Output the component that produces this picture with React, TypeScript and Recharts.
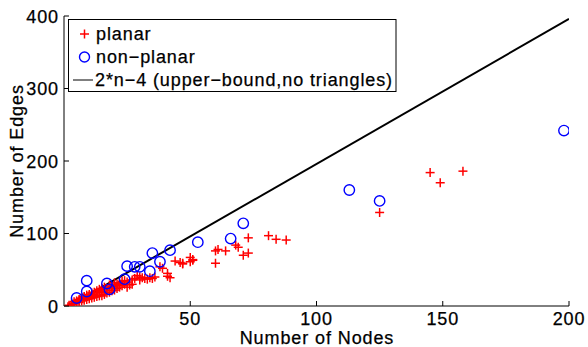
import React from "react"
import {
  ComposedChart,
  Scatter,
  XAxis,
  YAxis,
} from "recharts"

// planar graphs (red +)
const planarNodes = [
  2, 3, 3, 4, 4, 5, 5, 6, 6, 6, 7, 7, 7, 8, 8, 8, 9, 9, 9, 10, 10, 10, 11, 11, 11,
  12, 12, 12, 13, 13, 13, 14, 14, 14, 15, 15, 15, 16, 16, 16, 17, 17, 18, 18, 18,
  19, 19, 20, 20, 20, 21, 21, 22, 22, 23, 23, 24, 24, 25, 25, 26, 27, 27, 28, 29,
  30, 30, 31, 32, 33, 34, 35, 36, 38, 39, 41, 41, 42, 44, 46, 47, 47, 50, 51,
  50, 51, 60, 60, 61, 64, 68, 69, 71, 73, 73, 81, 84, 88, 125, 145, 149, 158,
]
const planarEdges = [
  1, 2, 4, 3, 6, 5, 7, 5, 8, 9, 7, 10, 11, 8, 12, 13, 9, 13, 15, 10, 14, 16, 11, 15, 18,
  12, 16, 19, 13, 18, 21, 14, 19, 23, 14, 20, 24, 16, 22, 26, 18, 24, 19, 25, 29,
  21, 27, 22, 28, 32, 24, 30, 26, 31, 28, 34, 30, 35, 26, 33, 29, 30, 36, 38, 42,
  36, 40, 39, 38, 37, 39, 38, 40, 54, 52, 41, 45, 39, 62, 60, 59, 58, 67, 64,
  61, 63, 59, 76, 78, 76, 84, 81, 70, 73, 94, 97, 92, 91, 129, 184, 170, 186,
]

// non-planar graphs (blue o)
const nonPlanarNodes = [5, 9, 9, 17, 18, 24, 25, 28, 30, 34, 35, 38, 42, 53, 66, 71, 113, 125, 198]
const nonPlanarEdges = [11, 35, 20, 31, 23, 37, 55, 54, 54, 48, 73, 61, 77, 88, 93, 114, 160, 145, 242]

// upper bound 2*n-4
const boundNodes = [2, 200]
const boundEdges = [0, 396]

const xTicks = [50, 100, 150, 200]
const yTicks = [0, 100, 200, 300, 400]

const planar = planarNodes.map((x, i) => ({ x, y: planarEdges[i] }))
const nonPlanar = nonPlanarNodes.map((x, i) => ({ x, y: nonPlanarEdges[i] }))
const bound = boundNodes.map((x, i) => ({ x, y: boundEdges[i] }))

const FONT = "'Liberation Sans', Arial, sans-serif"
const textStyle = { fontFamily: FONT, fontSize: 18, letterSpacing: 0.9 }
// slight stroke to mimic the heavier raster text
const ink = { fill: "#000", stroke: "#000", strokeWidth: 0.25 }

const Plus = (p: any) => (
  <g stroke="#ff0000" strokeWidth={1.5}>
    <line x1={p.cx - 4.5} x2={p.cx + 4.5} y1={p.cy} y2={p.cy} />
    <line x1={p.cx} x2={p.cx} y1={p.cy - 4.5} y2={p.cy + 4.5} />
  </g>
)

const Ring = (p: any) => (
  <circle cx={p.cx} cy={p.cy} r={5.2} fill="none" stroke="#0000ff" strokeWidth={1.4} />
)

const XTick = (p: any) => (
  <g>
    <line x1={p.x} x2={p.x} y1={p.y} y2={p.y - 5} stroke="#000" />
    <text x={p.x} y={p.y + 19} textAnchor="middle" {...ink} style={textStyle}>
      {p.payload.value}
    </text>
  </g>
)

const YTick = (p: any) => (
  <g>
    <line x1={p.x} x2={p.x + 5} y1={p.y} y2={p.y} stroke="#000" />
    <text x={p.x - 5} y={p.y + 6.5} textAnchor="end" {...ink} style={textStyle}>
      {p.payload.value}
    </text>
  </g>
)

const TopTick = (p: any) => (
  <line x1={p.x} x2={p.x} y1={p.y} y2={p.y + 5} stroke="#000" />
)

const RightTick = (p: any) => (
  <line x1={p.x} x2={p.x - 5} y1={p.y} y2={p.y} stroke="#000" />
)

export default function App() {
  return (
    <div style={{ position: "fixed", left: 0, top: 0, width: 588, height: 347, background: "#fff" }}>
      <ComposedChart width={588} height={347} margin={{ top: 16, right: 19, left: 0, bottom: 0 }}>
        <XAxis xAxisId="b" dataKey="x" type="number" domain={[0, 200]} ticks={xTicks} height={41}
          tickSize={0} tickMargin={0} tick={<XTick />} axisLine={{ stroke: "#000" }} allowDataOverflow />
        <XAxis xAxisId="t" orientation="top" dataKey="x" type="number" domain={[0, 200]} ticks={xTicks} height={0}
          tickSize={0} tickMargin={0} tick={<TopTick />} axisLine={{ stroke: "#000" }} allowDataOverflow />
        <YAxis yAxisId="l" dataKey="y" type="number" domain={[0, 400]} ticks={yTicks} width={64}
          tickSize={0} tickMargin={0} tick={<YTick />} axisLine={{ stroke: "#000" }} allowDataOverflow />
        <YAxis yAxisId="r" orientation="right" dataKey="y" type="number" domain={[0, 400]} ticks={yTicks} width={0}
          tickSize={0} tickMargin={0} tick={<RightTick />} axisLine={{ stroke: "#000" }} allowDataOverflow />
        <Scatter xAxisId="b" yAxisId="l" data={bound} line={{ stroke: "#000", strokeWidth: 2 }}
          shape={() => <g />} isAnimationActive={false} />
        <Scatter xAxisId="b" yAxisId="l" data={planar} shape={<Plus />} isAnimationActive={false} />
        <Scatter xAxisId="b" yAxisId="l" data={nonPlanar} shape={<Ring />} isAnimationActive={false} />
      </ComposedChart>

      <svg width={588} height={347} style={{ position: "absolute", left: 0, top: 0, pointerEvents: "none" }}>
        <text x={317} y={344} textAnchor="middle" {...ink} style={textStyle}>Number of Nodes</text>
        <text x={0} y={0} transform="translate(23,161) rotate(-90)" textAnchor="middle" {...ink} style={textStyle}>
          Number of Edges
        </text>
        <rect x={68.5} y={19.5} width={327.5} height={72} fill="#fff" stroke="#000" strokeWidth={1} />
        <g stroke="#ff0000" strokeWidth={1.5}>
          <line x1={80} x2={89} y1={34} y2={34} />
          <line x1={84.5} x2={84.5} y1={29.5} y2={38.5} />
        </g>
        <circle cx={84.5} cy={57} r={5} fill="none" stroke="#0000ff" strokeWidth={1.4} />
        <line x1={73} x2={93} y1={80} y2={80} stroke="#000" strokeWidth={1} />
        <text x={96} y={40} {...ink} style={textStyle}>planar</text>
        <text x={96} y={63} {...ink} style={textStyle}>non−planar</text>
        <text x={95} y={86} {...ink} style={textStyle}>2*n−4 (upper−bound,no triangles)</text>
      </svg>
    </div>
  )
}
